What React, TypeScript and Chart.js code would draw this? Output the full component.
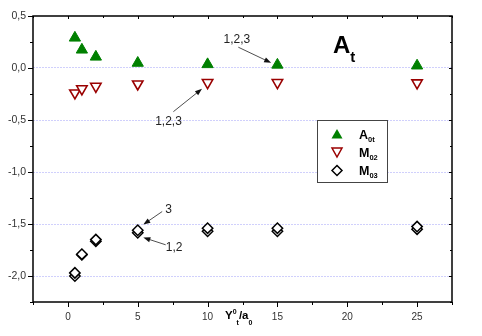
import React, { useEffect, useRef } from "react";
import { Chart, registerables } from "chart.js";

Chart.register(...registerables);

// ---- data ----
const xValues = [0.5, 1, 2, 5, 10, 15, 25];
const a0t = [0.29, 0.175, 0.107, 0.048, 0.035, 0.03, 0.022];
const m02 = [-0.24, -0.2, -0.176, -0.154, -0.14, -0.14, -0.143];
const m03Case3 = [-1.97, -1.79, -1.65, -1.56, -1.54, -1.54, -1.525];
const m03Case12 = [-2.0, -1.795, -1.665, -1.585, -1.57, -1.57, -1.55];
const xTickLabels = [0, 5, 10, 15, 20, 25];
const yTickLabels = [0.5, 0, -0.5, -1, -1.5, -2];

// annotations: text position (data coords), arrow start and arrow tip (data coords)
const annotations = [
  { text: "1,2,3", tx: 12.1, ty: 0.27, x0: 12.2, y0: 0.2, x1: 14.55, y1: 0.05 },
  { text: "1,2,3", tx: 7.2, ty: -0.515, x0: 7.55, y0: -0.42, x1: 9.6, y1: -0.2 },
  { text: "3", tx: 7.2, ty: -1.362, x0: 6.75, y0: -1.38, x1: 5.4, y1: -1.505 },
  { text: "1,2", tx: 7.6, ty: -1.723, x0: 7.0, y0: -1.7, x1: 5.4, y1: -1.63 },
];

const FONT = "'Liberation Sans', Arial, sans-serif";
const GREEN = "#008000";
const RED = "#9a0000";

function pts(ys: number[]) {
  return xValues.map((x, i) => ({ x, y: ys[i] }));
}

function isMult(v: number, step: number) {
  const r = v / step;
  return Math.abs(r - Math.round(r)) < 1e-6;
}

type Part = { t: string; size: number; dy: number };
function drawRich(ctx: CanvasRenderingContext2D, parts: Part[], x: number, y: number) {
  let cx = x;
  for (const p of parts) {
    ctx.font = `bold ${p.size}px ${FONT}`;
    ctx.fillText(p.t, cx, y + p.dy);
    cx += ctx.measureText(p.t).width;
  }
}

function arrow(ctx: CanvasRenderingContext2D, x0: number, y0: number, x1: number, y1: number) {
  const ang = Math.atan2(y1 - y0, x1 - x0);
  const hl = 7;
  const hw = 2.6;
  ctx.strokeStyle = "#222";
  ctx.lineWidth = 0.8;
  ctx.beginPath();
  ctx.moveTo(x0, y0);
  ctx.lineTo(x1 - Math.cos(ang) * hl * 0.8, y1 - Math.sin(ang) * hl * 0.8);
  ctx.stroke();
  ctx.fillStyle = "#111";
  ctx.beginPath();
  ctx.moveTo(x1, y1);
  ctx.lineTo(x1 - Math.cos(ang) * hl - Math.sin(ang) * hw, y1 - Math.sin(ang) * hl + Math.cos(ang) * hw);
  ctx.lineTo(x1 - Math.cos(ang) * hl + Math.sin(ang) * hw, y1 - Math.sin(ang) * hl - Math.cos(ang) * hw);
  ctx.closePath();
  ctx.fill();
}

const decorPlugin = {
  id: "decor",
  afterDatasetsDraw(chart: any) {
    const ctx: CanvasRenderingContext2D = chart.ctx;
    const { left, right, top, bottom } = chart.chartArea;
    const xs = chart.scales.x;
    const ys = chart.scales.y;
    ctx.save();

    // annotations
    ctx.textAlign = "center";
    ctx.textBaseline = "middle";
    for (const a of annotations) {
      ctx.fillStyle = "#222";
      ctx.font = `12px ${FONT}`;
      ctx.fillText(a.text, xs.getPixelForValue(a.tx), ys.getPixelForValue(a.ty));
      arrow(
        ctx,
        xs.getPixelForValue(a.x0),
        ys.getPixelForValue(a.y0),
        xs.getPixelForValue(a.x1),
        ys.getPixelForValue(a.y1)
      );
    }

    // title A_t
    ctx.textAlign = "left";
    ctx.textBaseline = "alphabetic";
    ctx.fillStyle = "#000";
    drawRich(
      ctx,
      [
        { t: "A", size: 24, dy: 0 },
        { t: "t", size: 15, dy: 9 },
      ],
      333,
      53
    );

    // legend box
    ctx.strokeStyle = "#444";
    ctx.lineWidth = 1;
    ctx.fillStyle = "#fff";
    ctx.fillRect(317.5, 120.5, 70, 62);
    ctx.strokeRect(317.5, 120.5, 70, 62);
    // symbols
    const sx = 337;
    ctx.fillStyle = GREEN;
    ctx.beginPath();
    ctx.moveTo(sx, 129);
    ctx.lineTo(sx + 5.5, 138.5);
    ctx.lineTo(sx - 5.5, 138.5);
    ctx.closePath();
    ctx.fill();
    ctx.strokeStyle = RED;
    ctx.lineWidth = 1.5;
    ctx.beginPath();
    ctx.moveTo(sx - 5, 148);
    ctx.lineTo(sx + 5, 148);
    ctx.lineTo(sx, 157);
    ctx.closePath();
    ctx.stroke();
    ctx.strokeStyle = "#000";
    ctx.beginPath();
    ctx.moveTo(sx, 165.5);
    ctx.lineTo(sx + 5, 170.5);
    ctx.lineTo(sx, 175.5);
    ctx.lineTo(sx - 5, 170.5);
    ctx.closePath();
    ctx.stroke();
    ctx.fillStyle = "#000";
    drawRich(ctx, [{ t: "A", size: 12.5, dy: 0 }, { t: "0t", size: 7.5, dy: 3 }], 359, 139);
    drawRich(ctx, [{ t: "M", size: 12.5, dy: 0 }, { t: "02", size: 7.5, dy: 3 }], 359, 157);
    drawRich(ctx, [{ t: "M", size: 12.5, dy: 0 }, { t: "03", size: 7.5, dy: 3 }], 359, 175);

    // axis title
    drawRich(
      ctx,
      [
        { t: "Y", size: 11.5, dy: 0 },
        { t: "0", size: 7, dy: -5 },
        { t: "t", size: 7, dy: 6 },
        { t: "/a", size: 11.5, dy: 0 },
        { t: "0", size: 7, dy: 6 },
      ],
      225,
      319
    );

    // frame
    ctx.strokeStyle = "#000";
    ctx.lineWidth = 1.5;
    ctx.strokeRect(left, top, right - left, bottom - top);

    // ticks
    ctx.lineWidth = 1;
    ctx.strokeStyle = "#000";
    ctx.beginPath();
    for (const t of xs.ticks) {
      const px = Math.round(xs.getPixelForValue(t.value)) + 0.5;
      const major = isMult(t.value, 5);
      const len = major ? 5 : 3;
      ctx.moveTo(px, bottom);
      ctx.lineTo(px, bottom + len);
      ctx.moveTo(px, top);
      ctx.lineTo(px, top + (major ? 3 : 2));
    }
    for (const t of ys.ticks) {
      const py = Math.round(ys.getPixelForValue(t.value)) + 0.5;
      const major = isMult(t.value, 0.5);
      const len = major ? 5 : 3;
      ctx.moveTo(left, py);
      ctx.lineTo(left - len, py);
      ctx.moveTo(right, py);
      ctx.lineTo(right - (major ? 3 : 2), py);
    }
    ctx.stroke();
    ctx.restore();
  },
};

export default function App() {
  const ref = useRef<HTMLCanvasElement>(null);
  useEffect(() => {
    if (!ref.current) return;
    const chart = new Chart(ref.current, {
      type: "scatter",
      data: {
        datasets: [
          {
            label: "A0t",
            data: pts(a0t),
            pointStyle: "triangle",
            radius: 6.5,
            backgroundColor: GREEN,
            borderColor: GREEN,
            borderWidth: 1,
          },
          {
            label: "M02",
            data: pts(m02),
            pointStyle: "triangle",
            rotation: 180,
            radius: 6,
            backgroundColor: "#fff",
            borderColor: RED,
            borderWidth: 1.6,
          },
          {
            label: "M03 (3)",
            data: pts(m03Case3),
            pointStyle: "rectRot",
            radius: 5.2,
            backgroundColor: "#fff",
            borderColor: "#000",
            borderWidth: 1.5,
          },
          {
            label: "M03 (1,2)",
            data: pts(m03Case12),
            pointStyle: "rectRot",
            radius: 5.2,
            backgroundColor: "#fff",
            borderColor: "#000",
            borderWidth: 1.5,
          },
        ],
      },
      options: {
        animation: false,
        responsive: false,
        devicePixelRatio: 1,
        layout: { padding: { top: 16, right: 30, left: 0, bottom: 0 } },
        plugins: { legend: { display: false }, tooltip: { enabled: false } },
        scales: {
          x: {
            type: "linear",
            min: -2.5,
            max: 27.5,
            afterFit: (s: any) => {
              s.height = 34;
            },
            afterBuildTicks: (s: any) => {
              const arr = [];
              for (let v = -2.5; v <= 27.5 + 1e-9; v += 2.5) arr.push({ value: v });
              s.ticks = arr;
            },
            grid: { display: false, drawTicks: false },
            border: { display: false },
            ticks: {
              autoSkip: false,
              maxRotation: 0,
              padding: 9,
              color: "#333",
              font: { family: FONT, size: 10 },
              callback: (v: any) => {
                const n = Number(v);
                return xTickLabels.some((t) => Math.abs(t - n) < 1e-6) ? String(n) : "";
              },
            },
          },
          y: {
            type: "linear",
            min: -2.25,
            max: 0.5,
            afterFit: (s: any) => {
              s.width = 33;
            },
            afterBuildTicks: (s: any) => {
              const arr = [];
              for (let v = -2.25; v <= 0.5 + 1e-9; v += 0.25) arr.push({ value: Math.round(v * 100) / 100 });
              s.ticks = arr;
            },
            grid: {
              drawTicks: false,
              lineWidth: 1,
              color: (c: any) => {
                const v = c.tick ? c.tick.value : 0;
                if (!isMult(v, 0.5) || Math.abs(v - 0.5) < 1e-6) return "rgba(0,0,0,0)";
                return "rgb(208,208,252)";
              },
            },
            border: { display: false, dash: [2, 1] },
            ticks: {
              autoSkip: false,
              padding: 7,
              color: "#333",
              font: { family: FONT, size: 10.5 },
              callback: (v: any) => {
                const n = Number(v);
                if (!yTickLabels.some((t) => Math.abs(t - n) < 1e-6)) return "";
                return n.toFixed(1).replace(".", ",");
              },
            },
          },
        },
      },
      plugins: [decorPlugin],
    });
    return () => chart.destroy();
  }, []);
  return (
    <div style={{ position: "absolute", left: 0, top: 0, width: 482, height: 336, background: "#fff" }}>
      <canvas ref={ref} width={482} height={336} />
    </div>
  );
}
